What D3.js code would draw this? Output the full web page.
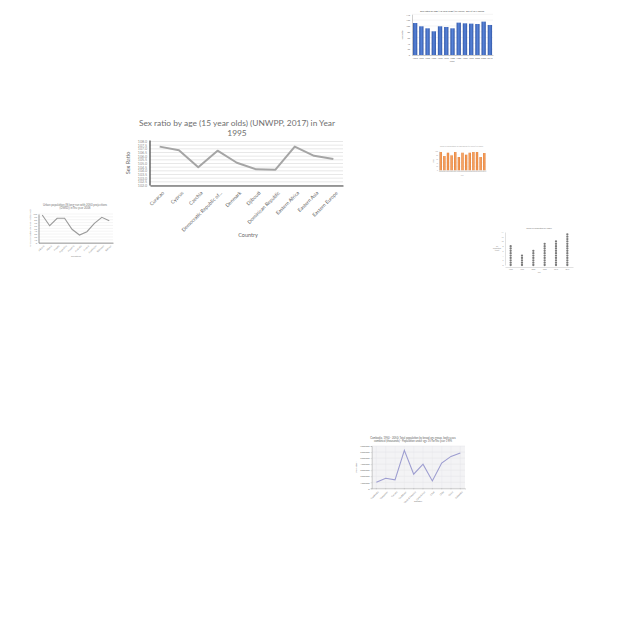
<!DOCTYPE html>
<html><head><meta charset="utf-8">
<script src="https://cdn.jsdelivr.net/npm/d3@7"></script>
<style>body{margin:0;background:#fff}svg{display:block}text{font-family:Lato,"Open Sans",sans-serif}</style>
</head><body><svg id="c" width="640" height="640"></svg>
<script>
// ---------- Main chart data ----------
const mainCountries = ["Curacao","Cyprus","Czechia","Democratic Republic of...","Denmark","Djibouti","Dominican Republic","Eastern Africa","Eastern Asia","Eastern Europe"];
const mainValues = [107.3,106.8,104.5,106.75,105.1,104.2,104.15,107.3,106.05,105.6];
const mainTicks = [102,102.5,103,103.5,104,104.5,105,105.5,106,106.5,107,107.5,108];

// ---------- Small chart A (blue bars) ----------
const aYears = ["1950","1955","1960","1965","1970","1975","1980","1985","1990","1995","2000","2005","2010"];
const aValues = [110,98.7,91.8,81.5,98.7,96.4,91.8,111.3,109,107.9,106.7,114.8,103.3];
const aTicks = [0,20,40,60,80,100,120,140];

// ---------- Small chart B (gray line) ----------
const bCountries = ["Albania","Algeria","Angola","Argentina","Armenia","Australia","Austria","Azerbaijan","Bahamas","Bahrain"];
const bValues = [96.5,59.2,85,85,46.7,26.8,38.3,67.6,88.5,76.7];
const bTicks = [0,10,20,30,40,50,60,70,80,90,100];

// ---------- Small chart C (orange bars) ----------
const cYears = ["2000","2001","2002","2003","2004","2005","2006","2007","2008","2009","2010","2011","2012"];
const cValues = [94.8,74.1,91.4,77.6,94.8,69,91.4,81,91.4,94.8,94.8,69,89.7];
const cTicks = [0,20,40,60,80,100];

// ---------- Small chart D (dot columns) ----------
const dYears = ["1990","1995","2000","2005","2010","2015"];
const dCounts = [9,5,7,10,11,14];
const dTicks = [0,2,4,6,8,10,12,14];

// ---------- Small chart E (purple line) ----------
const eCountries = ["Cambodia","Cameroon","Canada","Caribbean","Central America","Central Asia","Chad","Chile","China","Colombia"];
const eValues = [1.0e6,1.67e6,1.39e6,6.28e6,2.33e6,4.0e6,1.22e6,4.17e6,5.28e6,5.83e6];
const eTicks = [0,1e6,2e6,3e6,4e6,5e6,6e6,7e6];

const svg = d3.select("#c");
svg.append("rect").attr("width",640).attr("height",640).attr("fill","#fff");

// ================= MAIN CHART =================
(function(){
  const g = svg.append("g");
  const L=150,R=343,T=141.5,B=185.5;
  const x = d3.scaleBand().domain(mainCountries).range([L,R]);
  const y = d3.scaleLinear().domain([102,108]).range([B,T]);
  g.append("g").selectAll("line").data(mainTicks).join("line")
    .attr("x1",L).attr("x2",R).attr("y1",d=>y(d)).attr("y2",d=>y(d))
    .attr("stroke","#d9d9d9").attr("stroke-width",0.6);
  const ya = d3.axisLeft(y).tickValues(mainTicks).tickSize(0).tickPadding(3).tickFormat(d3.format(".1f"));
  const yg = g.append("g").attr("transform",`translate(${L},0)`).call(ya);
  yg.select(".domain").remove();
  yg.selectAll("text").attr("font-size",3.6).attr("fill","#8c8c8c").attr("font-family","Lato");
  g.append("line").attr("x1",L).attr("x2",L).attr("y1",T-1).attr("y2",B).attr("stroke","#404040").attr("stroke-width",1.2);
  const xa = d3.axisBottom(x).tickSize(0).tickPadding(4);
  const xg = g.append("g").attr("transform",`translate(0,${B})`).call(xa);
  xg.select(".domain").attr("stroke","#404040").attr("stroke-width",1.2);
  xg.selectAll("text").attr("font-size",5).attr("fill","#666")
    .attr("text-anchor","end").attr("dy",0)
    .attr("transform","translate(2,5) rotate(-45)");
  g.append("path").datum(mainValues)
    .attr("d",d3.line().x((d,i)=>x(mainCountries[i])+x.bandwidth()/2).y(d=>y(d)))
    .attr("fill","none").attr("stroke","#a5a5a5").attr("stroke-width",2).attr("stroke-linejoin","round");
  const t = g.append("text").attr("x",237).attr("y",126).attr("text-anchor","middle").attr("font-size",8.4).attr("fill","#707070");
  t.append("tspan").attr("x",237).text("Sex ratio by age (15 year olds) (UNWPP, 2017) in Year");
  t.append("tspan").attr("x",237).attr("dy",9.8).text("1995");
  g.append("text").attr("transform",`translate(130,163) rotate(-90)`).attr("text-anchor","middle").attr("font-size",5.5).attr("fill","#666").text("Sex Ratio");
  g.append("text").attr("x",248).attr("y",237).attr("text-anchor","middle").attr("font-size",5.5).attr("fill","#666").text("Country");
})();

// ================= CHART A =================
(function(){
  const g = svg.append("g");
  const L=412,R=493,T=14.3,B=55;
  const x = d3.scaleBand().domain(aYears).range([L,R]).paddingInner(0.3).paddingOuter(0.15);
  const y = d3.scaleLinear().domain([0,140]).range([B,T]);
  const gr = svg.append("defs").append("linearGradient").attr("id","gA").attr("x1",0).attr("x2",1).attr("y1",0).attr("y2",0);
  gr.append("stop").attr("offset","0%").attr("stop-color","#3459a8");
  gr.append("stop").attr("offset","50%").attr("stop-color","#5682d8");
  gr.append("stop").attr("offset","100%").attr("stop-color","#3459a8");
  g.append("g").selectAll("line").data(aTicks).join("line")
    .attr("x1",L).attr("x2",R).attr("y1",d=>y(d)).attr("y2",d=>y(d)).attr("stroke","#e6e6e6").attr("stroke-width",0.4);
  g.append("g").selectAll("rect").data(aValues).join("rect")
    .attr("x",(d,i)=>x(aYears[i])).attr("width",x.bandwidth()).attr("y",d=>y(d)).attr("height",d=>B-y(d)).attr("fill","url(#gA)");
  const yg = g.append("g").attr("transform",`translate(${L},0)`).call(d3.axisLeft(y).tickValues(aTicks).tickSize(0).tickPadding(2));
  yg.select(".domain").attr("stroke","#888").attr("stroke-width",0.4);
  yg.selectAll("text").attr("font-size",2.2).attr("fill","#666");
  const xg = g.append("g").attr("transform",`translate(0,${B})`).call(d3.axisBottom(x).tickSize(0).tickPadding(2));
  xg.select(".domain").attr("stroke","#888").attr("stroke-width",0.4);
  xg.selectAll("text").attr("font-size",2.2).attr("fill","#666");
  g.append("text").attr("x",452).attr("y",11.5).attr("text-anchor","middle").attr("font-size",2.6).attr("fill","#444").text("Sex ratio by age (15 year olds) (UNWPP, 2017) in Mexico");
  g.append("text").attr("transform","translate(403,35) rotate(-90)").attr("text-anchor","middle").attr("font-size",2.2).attr("fill","#666").text("Sex Ratio");
  g.append("text").attr("x",452).attr("y",62).attr("text-anchor","middle").attr("font-size",2.2).attr("fill","#666").text("Years");
})();

// ================= CHART B =================
(function(){
  const g = svg.append("g");
  const L=38.5,R=113,T=214,B=242.7;
  const x = d3.scaleBand().domain(bCountries).range([L,R]);
  const y = d3.scaleLinear().domain([0,100]).range([B,T]);
  g.append("g").selectAll("line").data(bTicks).join("line")
    .attr("x1",L).attr("x2",R).attr("y1",d=>y(d)).attr("y2",d=>y(d)).attr("stroke","#e3e3e3").attr("stroke-width",0.4);
  const yg = g.append("g").attr("transform",`translate(${L},0)`).call(d3.axisLeft(y).tickValues(bTicks).tickSize(0).tickPadding(1.5));
  yg.select(".domain").attr("stroke","#555").attr("stroke-width",0.6);
  yg.selectAll("text").attr("font-size",2.3).attr("fill","#888");
  const xg = g.append("g").attr("transform",`translate(0,${B})`).call(d3.axisBottom(x).tickSize(0).tickPadding(2));
  xg.select(".domain").attr("stroke","#555").attr("stroke-width",0.6);
  xg.selectAll("text").attr("font-size",2.3).attr("fill","#888").attr("text-anchor","end").attr("dy",0).attr("transform","translate(1,2) rotate(-45)");
  g.append("path").datum(bValues)
    .attr("d",d3.line().x((d,i)=>x(bCountries[i])+x.bandwidth()/2).y(d=>y(d)))
    .attr("fill","none").attr("stroke","#9a9a9a").attr("stroke-width",1.1);
  const t = g.append("text").attr("x",75).attr("y",206).attr("text-anchor","middle").attr("font-size",2.8).attr("fill","#777");
  t.append("tspan").attr("x",75).text("Urban population (% long-run with 2050 projections");
  t.append("tspan").attr("x",75).attr("dy",3).text("(OWID)) in the year 2008");
  g.append("text").attr("transform","translate(31,228) rotate(-90)").attr("text-anchor","middle").attr("font-size",2.2).attr("fill","#888").text("Urban population (% long-run) (OWID)");
  g.append("text").attr("x",76).attr("y",256.5).attr("text-anchor","middle").attr("font-size",2.3).attr("fill","#888").text("Countries");
})();

// ================= CHART C =================
(function(){
  const g = svg.append("g");
  const L=439,R=486,T=151,B=170.3;
  const x = d3.scaleBand().domain(cYears).range([L,R]).paddingInner(0.35).paddingOuter(0.15);
  const y = d3.scaleLinear().domain([0,100]).range([B,T]);
  const gr = svg.append("defs").append("linearGradient").attr("id","gC").attr("x1",0).attr("x2",1);
  gr.append("stop").attr("offset","0%").attr("stop-color","#e07428");
  gr.append("stop").attr("offset","50%").attr("stop-color","#f7a463");
  gr.append("stop").attr("offset","100%").attr("stop-color","#e07428");
  g.append("g").selectAll("line").data(cTicks).join("line")
    .attr("x1",L).attr("x2",R).attr("y1",d=>y(d)).attr("y2",d=>y(d)).attr("stroke","#eee").attr("stroke-width",0.3);
  g.append("g").selectAll("rect").data(cValues).join("rect")
    .attr("x",(d,i)=>x(cYears[i])).attr("width",x.bandwidth()).attr("y",d=>y(d)).attr("height",d=>B-y(d)).attr("fill","url(#gC)");
  const yg = g.append("g").attr("transform",`translate(${L},0)`).call(d3.axisLeft(y).tickValues(cTicks).tickSize(0).tickPadding(1));
  yg.select(".domain").attr("stroke","#bbb").attr("stroke-width",0.3);
  yg.selectAll("text").attr("font-size",1.6).attr("fill","#aaa");
  const xg = g.append("g").attr("transform",`translate(0,${B})`).call(d3.axisBottom(x).tickSize(0).tickPadding(1));
  xg.select(".domain").attr("stroke","#bbb").attr("stroke-width",0.3);
  xg.selectAll("text").attr("font-size",1.6).attr("fill","#aaa");
  g.append("text").attr("x",461.5).attr("y",147).attr("text-anchor","middle").attr("font-size",1.9).attr("fill","#aaa").text("Share of population by age group (UNWPP) in Japan");
  g.append("text").attr("transform","translate(434,161) rotate(-90)").attr("text-anchor","middle").attr("font-size",1.6).attr("fill","#aaa").text("Share");
  g.append("text").attr("x",462).attr("y",176).attr("text-anchor","middle").attr("font-size",1.6).attr("fill","#aaa").text("Year");
})();

// ================= CHART D =================
(function(){
  const g = svg.append("g");
  const L=505,R=573,T=232,B=267;
  const x = d3.scaleBand().domain(dYears).range([L,R]);
  const y = d3.scaleLinear().domain([0,14]).range([265,232]);
  const yg = g.append("g").attr("transform",`translate(${L},0)`).call(d3.axisLeft(y).tickValues(dTicks).tickSize(0).tickPadding(1.5));
  yg.select(".domain").attr("stroke","#999").attr("stroke-width",0.3);
  yg.selectAll("text").attr("font-size",1.7).attr("fill","#888");
  const xg = g.append("g").attr("transform",`translate(0,${B})`).call(d3.axisBottom(x).tickSize(0).tickPadding(1.5));
  xg.select(".domain").attr("stroke","#999").attr("stroke-width",0.3);
  xg.selectAll("text").attr("font-size",1.7).attr("fill","#888");
  dCounts.forEach((n,i)=>{
    g.append("g").selectAll("circle").data(d3.range(n)).join("circle")
      .attr("cx",x(dYears[i])+x.bandwidth()/2).attr("cy",k=>y(k)).attr("r",1.15).attr("fill","#7a7a7a");
  });
  g.append("text").attr("x",539).attr("y",229).attr("text-anchor","middle").attr("font-size",1.9).attr("fill","#777").text("Global oil production by region");
  const yl = g.append("text").attr("x",497).attr("y",247).attr("text-anchor","middle").attr("font-size",1.7).attr("fill","#888");
  yl.append("tspan").attr("x",497).text("Oil");
  yl.append("tspan").attr("x",497).attr("dy",2).text("production");
  yl.append("tspan").attr("x",497).attr("dy",2).text("(TWh)");
  g.append("text").attr("x",539).attr("y",273).attr("text-anchor","middle").attr("font-size",1.7).attr("fill","#888").text("Year");
})();

// ================= CHART E =================
(function(){
  const g = svg.append("g");
  const L=371.7,R=465,T=446,B=488.3;
  const x = d3.scaleBand().domain(eCountries).range([L,R]);
  const y = d3.scaleLinear().domain([0,7e6]).range([B,T]);
  g.append("rect").attr("x",L).attr("y",T).attr("width",R-L).attr("height",B-T).attr("fill","#f3f3f5");
  g.append("g").selectAll("line").data(eTicks).join("line")
    .attr("x1",L).attr("x2",R).attr("y1",d=>y(d)).attr("y2",d=>y(d)).attr("stroke","#e0e0e4").attr("stroke-width",0.4);
  g.append("g").selectAll("line").data(eCountries).join("line")
    .attr("y1",T).attr("y2",B).attr("x1",d=>x(d)+x.bandwidth()/2).attr("x2",d=>x(d)+x.bandwidth()/2).attr("stroke","#e6e6ea").attr("stroke-width",0.4);
  const yg = g.append("g").attr("transform",`translate(${L},0)`).call(d3.axisLeft(y).tickValues(eTicks).tickSize(1).tickPadding(1).tickFormat(d3.format("d")));
  yg.select(".domain").attr("stroke","#888").attr("stroke-width",0.4);
  yg.selectAll(".tick line").attr("stroke","#888").attr("stroke-width",0.3);
  yg.selectAll("text").attr("font-size",2.3).attr("fill","#777");
  const xg = g.append("g").attr("transform",`translate(0,${B})`).call(d3.axisBottom(x).tickSize(1).tickPadding(1));
  xg.select(".domain").attr("stroke","#888").attr("stroke-width",0.4);
  xg.selectAll(".tick line").attr("stroke","#888").attr("stroke-width",0.3);
  xg.selectAll("text").attr("font-size",2.3).attr("fill","#777").attr("text-anchor","end").attr("dy",0).attr("transform","translate(1,2.5) rotate(-45)");
  g.append("path").datum(eValues)
    .attr("d",d3.line().x((d,i)=>x(eCountries[i])+x.bandwidth()/2).y(d=>y(d)))
    .attr("fill","none").attr("stroke","#9d9dd0").attr("stroke-width",1.1);
  const t = g.append("text").attr("x",413).attr("y",439).attr("text-anchor","middle").attr("font-size",2.7).attr("fill","#666");
  t.append("tspan").attr("x",413).text("Cambodia, 1950 - 2050: Total population by broad age group, both sexes");
  t.append("tspan").attr("x",413).attr("dy",3).text("combined (thousands) - Population under age 15 for the year 1995");
  g.append("text").attr("transform","translate(357,467) rotate(-90)").attr("text-anchor","middle").attr("font-size",2.3).attr("fill","#777").text("Population");
  g.append("text").attr("x",418).attr("y",501.5).attr("text-anchor","middle").attr("font-size",2.3).attr("fill","#777").text("Country");
})();
</script></body></html>
